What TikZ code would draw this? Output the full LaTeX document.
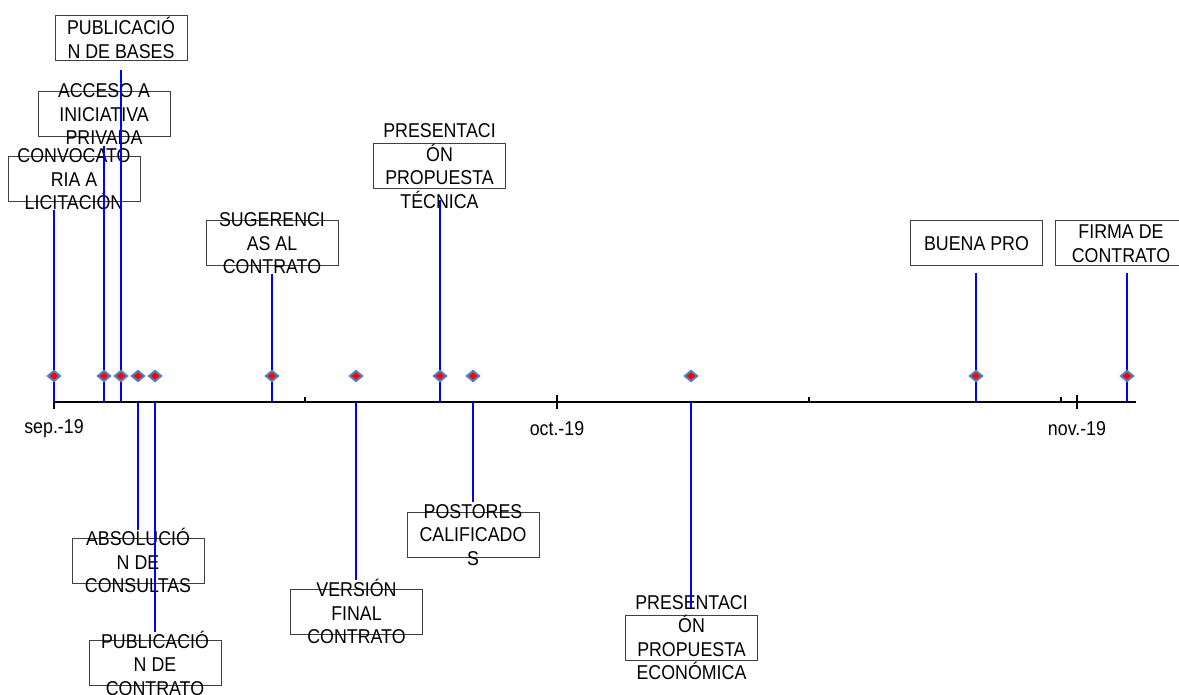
\documentclass[tikz,border=0pt]{standalone}
\usepackage{fontspec}
\setmainfont[FakeStretch=0.89]{Liberation Sans}
\usetikzlibrary{shapes.geometric}
\definecolor{stemblue}{RGB}{0,0,255}
\definecolor{markedge}{RGB}{79,129,189}
\begin{document}
\begin{tikzpicture}[x=0.5pt,y=-0.5pt]
        \tikzset{box/.style = {draw=black!75,line width=0.5pt,minimum width=66pt,minimum height=22.5pt,inner sep=0pt}}
        \tikzset{boxtext/.style = {align=center,inner sep=0pt,font=\fontsize{10}{11.75}\selectfont}}
        \tikzset{datelbl/.style = {inner sep=0pt,font=\fontsize{10}{11.75}\selectfont}}
        \tikzset{stem/.style = {draw=stemblue,line width=1pt}}
        \tikzset{evt/.style = {diamond,draw=markedge,fill=red,line width=1pt,minimum width=6.5pt,minimum height=5.5pt,inner sep=0pt}}
        \tikzset{axisline/.style = {draw=black,line width=0.9pt}}

        \useasboundingbox (0,0) rectangle (1179,695);

        % time axis
        \coordinate (start) at (54,402);
        \coordinate (end) at (1136,402);
        \draw[axisline] (start) -- (end);
        \draw[axisline] (54,395) -- (54,409);
        \draw[axisline] (557,395) -- (557,409);
        \draw[axisline] (1077,395) -- (1077,409);
        \draw[axisline] (305,397) -- (305,402);
        \draw[axisline] (809,397) -- (809,402);
        \draw[axisline] (1061,397) -- (1061,402);

        \node[datelbl] (sep) at (54,429) {sep.-19};
        \node[datelbl] (oct) at (557,429) {oct.-19};
        \node[datelbl] (nov) at (1077,429) {nov.-19};

        % points on the axis
        \coordinate (a0) at (54,402);
        \coordinate (a3) at (104,402);
        \coordinate (a4) at (121,402);
        \coordinate (a5) at (138,402);
        \coordinate (a6) at (155,402);
        \coordinate (a13) at (272,402);
        \coordinate (a18) at (356,402);
        \coordinate (a23) at (440,402);
        \coordinate (a25) at (473,402);
        \coordinate (a38) at (691,402);
        \coordinate (a55) at (976,402);
        \coordinate (a64) at (1127,402);

        % labels above
        \node[box,label={[boxtext]center:CONVOCATO\\RIA A\\LICITACIÓN}] (l0) at (74,179.5) {};
        \node[box,label={[boxtext]center:ACCESO A\\INICIATIVA\\PRIVADA}] (l3) at (104,114.5) {};
        \node[box,label={[boxtext]center:PUBLICACIÓ\\N DE BASES}] (l4) at (121,38) {};
        \node[box,label={[boxtext]center:SUGERENCI\\AS AL\\CONTRATO}] (l13) at (272,243.5) {};
        \node[box,label={[boxtext]center:PRESENTACI\\ÓN\\PROPUESTA\\TÉCNICA}] (l23) at (439.5,166) {};
        \node[box,label={[boxtext]center:BUENA PRO}] (l55) at (976.5,243.5) {};
        \node[box,label={[boxtext]center:FIRMA DE\\CONTRATO}] (l64) at (1121,243.5) {};

        % labels below
        \node[box,label={[boxtext]center:ABSOLUCIÓ\\N DE\\CONSULTAS}] (l5) at (138,560.5) {};
        \node[box,label={[boxtext]center:PUBLICACIÓ\\N DE\\CONTRATO}] (l6) at (155,663) {};
        \node[box,label={[boxtext]center:VERSIÓN\\FINAL\\CONTRATO}] (l18) at (356.5,611.5) {};
        \node[box,label={[boxtext]center:POSTORES\\CALIFICADO\\S}] (l25) at (473,535) {};
        \node[box,label={[boxtext]center:PRESENTACI\\ÓN\\PROPUESTA\\ECONÓMICA}] (l38) at (691.5,637.5) {};

        % stems
        \draw[stem,shorten >=4pt] (a0) -- (a0 |- l0.south);
        \draw[stem,shorten >=4.5pt] (a3) -- (a3 |- l3.south);
        \draw[stem,shorten >=4.5pt] (a4) -- (a4 |- l4.south);
        \draw[stem,shorten >=4pt] (a13) -- (a13 |- l13.south);
        \draw[stem,shorten >=5.5pt] (a23) -- (a23 |- l23.south);
        \draw[stem,shorten >=3.5pt] (a55) -- (a55 |- l55.south);
        \draw[stem,shorten >=3.5pt] (a64) -- (a64 |- l64.south);
        \draw[stem,shorten >=4pt] (a5) -- (a5 |- l5.north);
        \draw[stem,shorten >=4pt] (a6) -- (a6 |- l6.north);
        \draw[stem,shorten >=4.5pt] (a18) -- (a18 |- l18.north);
        \draw[stem,shorten >=5pt] (a25) -- (a25 |- l25.north);
        \draw[stem,shorten >=3.5pt] (a38) -- (a38 |- l38.north);

        % markers
        \node[evt] (m0) at (54,376) {};
        \node[evt] (m3) at (104,376) {};
        \node[evt] (m4) at (121,376) {};
        \node[evt] (m5) at (138,376) {};
        \node[evt] (m6) at (155,376) {};
        \node[evt] (m13) at (272,376) {};
        \node[evt] (m18) at (356,376) {};
        \node[evt] (m23) at (440,376) {};
        \node[evt] (m25) at (473,376) {};
        \node[evt] (m38) at (691,376) {};
        \node[evt] (m55) at (976,376) {};
        \node[evt] (m64) at (1127,376) {};
    \end{tikzpicture}
\end{document}
